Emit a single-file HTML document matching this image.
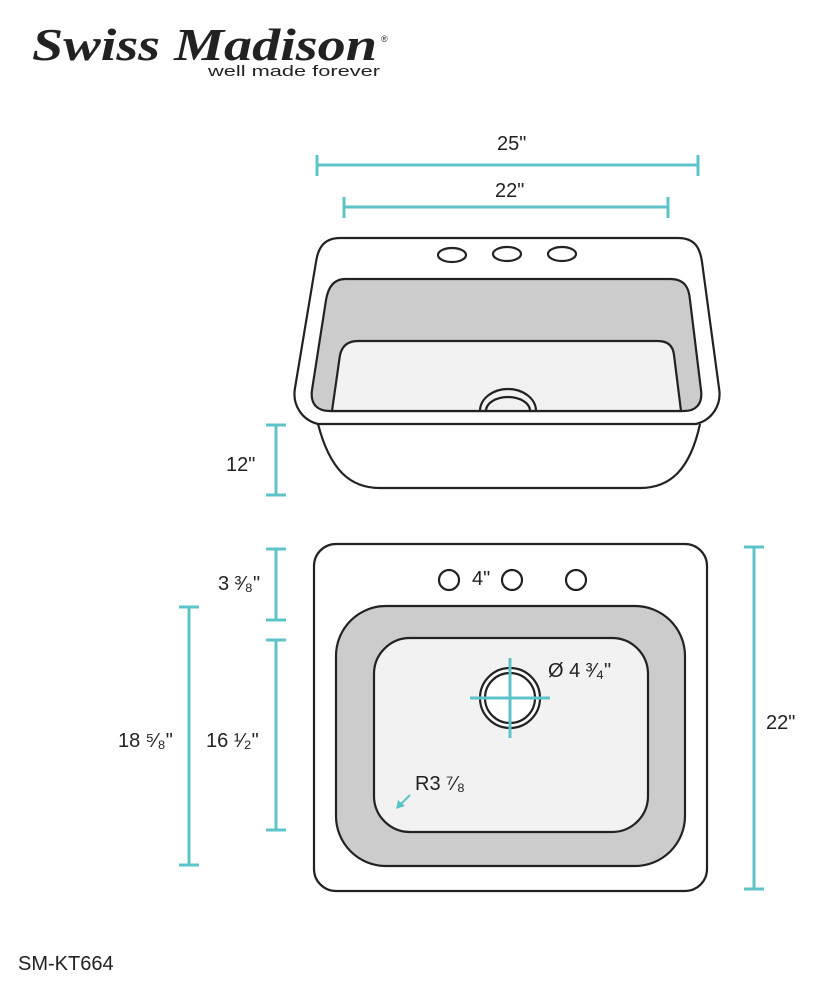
<!DOCTYPE html><html><head><style>body{margin:0;background:#fff}svg{display:block}text{font-family:"Liberation Sans",sans-serif;fill:#222}</style></head><body>
<svg width="820" height="990" viewBox="0 0 820 990">
<text x="32" y="60" font-style="italic" font-weight="bold" font-size="46" style="font-family:'Liberation Serif'" textLength="345" lengthAdjust="spacingAndGlyphs">Swiss Madison</text>
<text x="381" y="42" font-size="9">®</text>
<text x="208" y="76" font-size="15" textLength="172" lengthAdjust="spacingAndGlyphs">well made forever</text>
<g stroke="#5cc4c8" stroke-width="3" fill="none">
<path d="M317 165H698M317 155V176M698 155V176"/>
<path d="M344 207H668M344 197V218M668 197V218"/>
<path d="M276 425V495M266 425H286M266 495H286"/>
<path d="M276 549V620M266 549H286M266 620H286"/>
<path d="M276 640V830M266 640H286M266 830H286"/>
<path d="M189 607V865M179 607H199M179 865H199"/>
<path d="M754 547V889M744 547H764M744 889H764"/>
<path d="M447 552H511M447 545V564M511 545V564"/>
</g>
<g stroke="#222" stroke-width="2.2">
<path d="M318 424 C330 470 350 488 380 488 H640 C670 488 690 470 700 424" fill="#fff"/>
<path d="M340 238 H678 C695 238 700 248 702 262 L719 388 C722 405 712 420 696 424 H318 C302 420 292 405 295 388 L316 262 C318 248 324 238 340 238 Z" fill="#fff"/>
<path d="M345 279 H670 C685 279 689 288 690 300 L701 390 C703 405 695 411 684 411 H330 C318 411 310 405 312 390 L326 300 C328 288 333 279 345 279 Z" fill="#ccc"/>
<path d="M332 411 L340 355 C342 346 348 341 358 341 H658 C668 341 673 346 674 355 L681 411 Z" fill="#f2f2f2"/>
<path d="M480 411 A28 22 0 0 1 536 411 M486 411 A22 14 0 0 1 530 411" fill="none"/>
<ellipse cx="452" cy="255" rx="14" ry="7" fill="#fff"/><ellipse cx="507" cy="254" rx="14" ry="7" fill="#fff"/><ellipse cx="562" cy="254" rx="14" ry="7" fill="#fff"/>
<rect x="314" y="544" width="393" height="347" rx="22" fill="#fff"/>
<rect x="336" y="606" width="349" height="260" rx="50" fill="#ccc"/>
<rect x="374" y="638" width="274" height="194" rx="36" fill="#f2f2f2"/>
<circle cx="510" cy="698" r="30" fill="#fff"/><circle cx="510" cy="698" r="25" fill="#fff"/>
<circle cx="449" cy="580" r="10" fill="#fff"/><circle cx="512" cy="580" r="10" fill="#fff"/><circle cx="576" cy="580" r="10" fill="#fff"/>
</g>
<g stroke="#5cc4c8" stroke-width="3"><path d="M470 698H550M510 658V738"/><path d="M410 795L399 806" stroke-width="2"/></g>
<path d="M396 809L398 800L405 806Z" fill="#5cc4c8"/>
<g font-size="20">
<text x="497" y="150">25"</text><text x="495" y="197">22"</text>
<text x="226" y="471">12"</text><text x="218" y="590">3 ³⁄₈"</text>
<text x="206" y="747">16 ¹⁄₂"</text><text x="118" y="747">18 ⁵⁄₈"</text>
<text x="766" y="729">22"</text><text x="472" y="585">4"</text>
<text x="548" y="677">Ø 4 ³⁄₄"</text><text x="415" y="790">R3 ⁷⁄₈</text>
<text x="18" y="970">SM-KT664</text>
</g>
</svg></body></html>
